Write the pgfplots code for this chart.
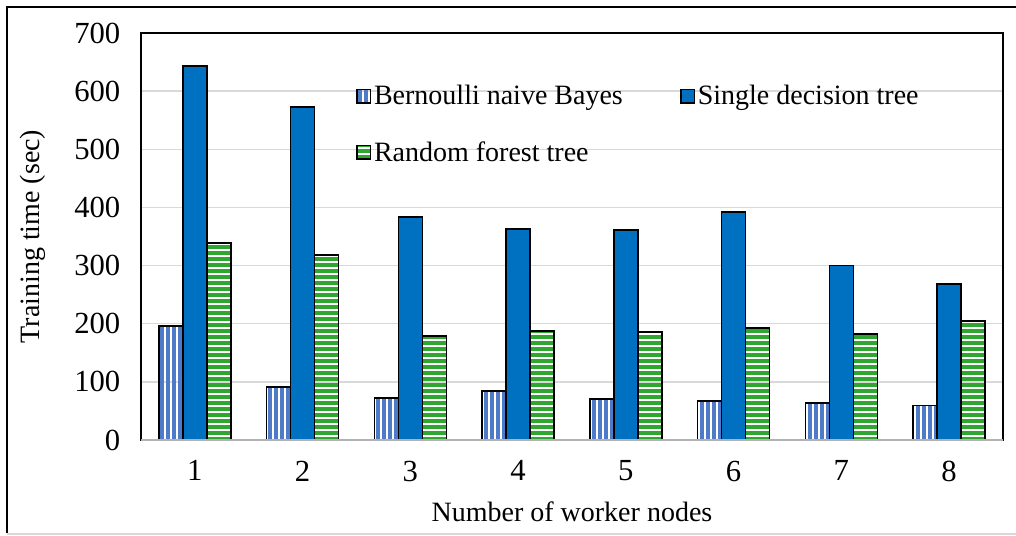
\documentclass[border=0pt]{standalone}
\usepackage{pgfplots}
\pgfplotsset{compat=1.18}
\usepackage{fontspec}
\setmainfont{Liberation Serif}
\usetikzlibrary{patterns.meta}
\definecolor{sdt}{RGB}{0,112,192}
\definecolor{bnb}{RGB}{78,122,200}
\definecolor{rft}{RGB}{47,166,47}
\definecolor{gridc}{RGB}{217,217,217}
\begin{document}
\begin{tikzpicture}
\useasboundingbox (-105.75pt,-71.25pt) rectangle (656.25pt,330pt);
\begin{axis}[
  scale only axis,
  width=646.5pt, height=305.25pt,
  xmin=0.5, xmax=8.5, ymin=0, ymax=700,
  ybar=0pt, bar width=18pt,
  xtick={1,...,8},
  ytick={0,100,...,700},
  major tick length=0pt,
  ymajorgrids, grid style={gridc, line width=1.1pt},
  axis line style={black, line width=1.5pt},
  every tick label/.append style={font=\fontsize{23}{27}\selectfont},
  /pgf/number format/assume math mode=true,
  yticklabel style={xshift=-12pt},
  xticklabel style={yshift=-12pt},
  xlabel={Number of worker nodes},
  ylabel={Training time (sec)},
  label style={font=\fontsize{21}{25}\selectfont},
  xlabel style={at={(axis description cs:0.5,-0.177)}, anchor=center},
  ylabel style={at={(axis description cs:-0.1253,0.5)}, anchor=center},
  legend columns=2,
  legend cell align=left,
  legend style={draw=none, fill=none, at={(0.245,0.885)}, anchor=north west,
    font=\fontsize{21}{25}\selectfont,
    /tikz/every even column/.append style={column sep=41pt},
    row sep=22pt},
  legend image code/.code={\draw[#1, line width=1.2pt] (0pt,-5pt) rectangle (10pt,5pt);},
  every axis plot/.append style={draw=black, line width=1.2pt},
]
\addplot[pattern={Lines[angle=90, distance=4.5pt, line width=2.5pt]}, pattern color=bnb]
  coordinates {(1,196) (2,91) (3,72) (4,84) (5,71) (6,67) (7,64) (8,59)};
\addplot[fill=sdt]
  coordinates {(1,643) (2,573) (3,384) (4,363) (5,361) (6,392) (7,300) (8,268)};
\addplot[pattern={Lines[angle=0, distance=4.5pt, line width=2.3pt]}, pattern color=rft]
  coordinates {(1,339) (2,318) (3,179) (4,187) (5,186) (6,193) (7,182) (8,205)};
\legend{Bernoulli naive Bayes, Single decision tree, Random forest tree}
\draw[gray!60, line width=1.2pt] (rel axis cs:0,0) -- (rel axis cs:1,0);
\end{axis}
\draw[black, line width=1.5pt] (-100.5pt,-69.75pt) -- (-100.5pt,324.75pt) -- (660pt,324.75pt);
\draw[gridc, line width=1pt] (-100.5pt,-70.5pt) -- (660pt,-70.5pt);
\end{tikzpicture}
\end{document}
